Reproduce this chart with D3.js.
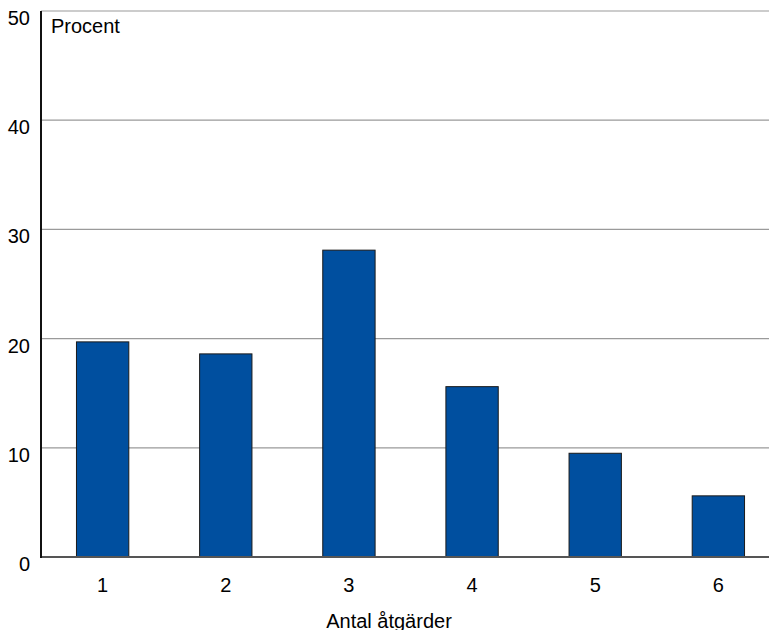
<!DOCTYPE html>
<html><head><meta charset="utf-8">
<script src="https://cdn.jsdelivr.net/npm/d3@7"></script>
<style>body{margin:0;background:#fff}svg{display:block}text{font-family:"Liberation Sans",Arial,Helvetica,sans-serif}</style>
</head><body>
<svg id="c" width="769" height="630"></svg>
<script>
const categories = ["1","2","3","4","5","6"];
const values = [19.7, 18.6, 28.1, 15.6, 9.5, 5.6];
const yTicks = [0,10,20,30,40,50];
const yLabel = "Procent";
const xLabel = "Antal åtgärder";

const svg = d3.select("#c");
const y = d3.scaleLinear().domain([0,50]).range([557,11]);
const x = d3.scaleBand().domain(categories).range([41,780]).paddingInner(0.575).paddingOuter(0.288);

// gridlines
svg.append("g").selectAll("line").data(yTicks.filter(d=>d>0)).join("line")
  .attr("x1",41).attr("x2",769).attr("y1",d=>y(d)).attr("y2",d=>y(d))
  .attr("stroke","#9a9a9a").attr("stroke-width",1.2);

// y tick labels
svg.append("g").selectAll("text").data(yTicks).join("text")
  .attr("x",30).attr("y",d=>y(d)+14).attr("text-anchor","end")
  .attr("font-size",20).attr("fill","#000").text(d=>d);

// bars
svg.append("g").selectAll("rect").data(values).join("rect")
  .attr("x",(d,i)=>x(categories[i])).attr("width",x.bandwidth())
  .attr("y",d=>y(d)).attr("height",d=>y(0)-y(d))
  .attr("fill","#004f9f").attr("stroke","#1a1a1a").attr("stroke-width",1);

// axes lines
svg.append("line").attr("x1",41).attr("x2",769).attr("y1",y(0)).attr("y2",y(0))
  .attr("stroke","#555").attr("stroke-width",2);
svg.append("line").attr("x1",41).attr("x2",41).attr("y1",y(50)).attr("y2",y(0)+1)
  .attr("stroke","#111").attr("stroke-width",2);

// x tick labels
svg.append("g").selectAll("text").data(categories).join("text")
  .attr("x",d=>x(d)+x.bandwidth()/2).attr("y",591.5).attr("text-anchor","middle")
  .attr("font-size",20).attr("fill","#000").text(d=>d);

svg.append("text").attr("x",51).attr("y",33.3)
  .attr("font-size",20).attr("fill","#000").text(yLabel);
svg.append("text").attr("x",389).attr("y",628).attr("text-anchor","middle")
  .attr("font-size",20).attr("fill","#000").text(xLabel);
</script>
</body></html>
